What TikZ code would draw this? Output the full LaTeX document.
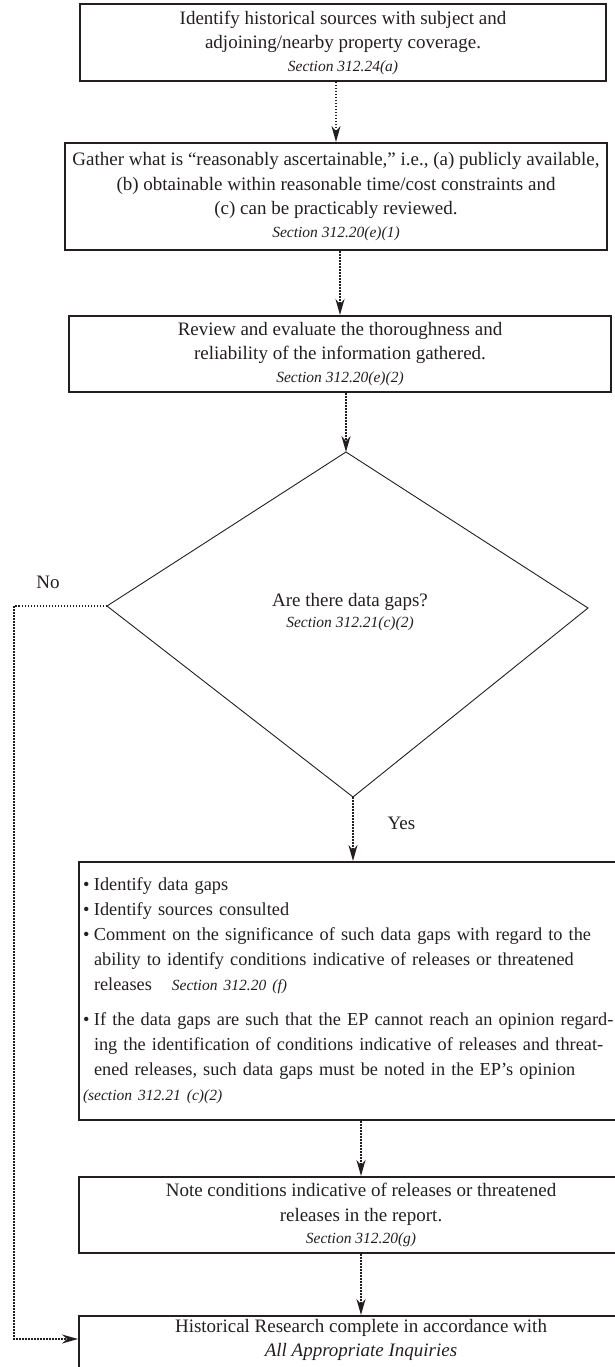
\documentclass[tikz,border=0pt]{standalone}
\usepackage{fontspec}
\setmainfont{Liberation Serif}
\usetikzlibrary{arrows.meta, positioning}

\definecolor{ink}{HTML}{231F20}
\newcommand{\boxfont}{\fontsize{19}{24.5}\selectfont}
\newcommand{\listfont}{\fontsize{18.3}{25}\selectfont}
\newcommand{\secfont}{\fontsize{15.5}{18}\selectfont\itshape}
\newcommand{\bul}{\makebox[11pt][l]{•}}
\newcommand{\hang}{\hspace*{11pt}}

\begin{document}
\begin{tikzpicture}[
    x=1pt, y=-1pt,
    step box/.style={draw=ink, line width=2pt, text=ink, font=\boxfont, align=center, inner sep=0pt},
    flow arrow/.style={draw=ink, line width=2pt, dash pattern=on 1.5pt off 1.5pt, -{Stealth[length=16pt, width=9pt]}},
    answer/.style={font=\boxfont, text=ink}
  ]

  \useasboundingbox (0,0) rectangle (614,1367);

  % steps
  \node[step box, minimum width=526, minimum height=77] (sources) at (343,42.5)
    {Identify historical sources with subject and\\adjoining/nearby property coverage.\\[-2pt]{\secfont Section 312.24(a)}};
  \node[step box, minimum width=542, minimum height=107] (gather) at (336,196.5)
    {Gather what is “reasonably ascertainable,” i.e., (a) publicly available,\\(b) obtainable within reasonable time/cost constraints and\\(c) can be practicably reviewed.\\[-2pt]{\secfont Section 312.20(e)(1)}};
  \node[step box, minimum width=542, minimum height=76] (review) at (340,354)
    {Review and evaluate the thoroughness and\\reliability of the information gathered.\\[-2pt]{\secfont Section 312.20(e)(2)}};

  % decision
  \coordinate (dtop) at (346,452);
  \coordinate (dright) at (588,608);
  \coordinate (dbottom) at (353,797);
  \coordinate (dleft) at (107,606);
  \draw[ink, line width=0.9pt] (dtop) -- (dright) -- (dbottom) -- (dleft) -- cycle;
  \node[answer, align=center] (question) at (350,612)
    {Are there data gaps?\\[-3pt]{\secfont Section 312.21(c)(2)}};

  \node[step box, anchor=north west, align=left, font=\listfont, text width=557, inner xsep=4pt, minimum height=258] (gaps) at (78,861)
    {\bul Identify data gaps\\
     \bul Identify sources consulted\\
     \bul Comment on the significance of such data gaps with regard to the\\
     \hang ability to identify conditions indicative of releases or threatened\\
     \hang releases\hspace{20pt}{\secfont Section 312.20 (f)}\\[10pt]
     \bul If the data gaps are such that the EP cannot reach an opinion regard-\\
     \hang ing the identification of conditions indicative of releases and threat-\\
     \hang ened releases, such data gaps must be noted in the EP’s opinion\\
     {\secfont (section 312.21 (c)(2)}};

  \node[step box, minimum width=564, minimum height=76] (note) at (361,1215)
    {Note conditions indicative of releases or threatened\\releases in the report.\\[-2pt]{\secfont Section 312.20(g)}};
  \node[step box, anchor=north, minimum width=564, inner ysep=3pt, text depth=27pt] (final) at (361,1315)
    {Historical Research complete in accordance with\\{\itshape All Appropriate Inquiries}};

  % connectors
  \draw[flow arrow] (sources.south -| gather.north) -- (gather.north);
  \draw[flow arrow] (gather.south -| review.north) -- (review.north);
  \draw[flow arrow] (review.south -| dtop) -- (dtop);
  \draw[flow arrow] (dbottom) -- (dbottom |- gaps.north);
  \draw[flow arrow] (gaps.south -| note.north) -- (note.north);
  \draw[flow arrow] (note.south) -- (final.north);

  \coordinate (noturn) at (14,606);
  \draw[flow arrow] (dleft) -- (noturn) |- ([yshift=-24pt]final.north west);

  \node[answer] (no) at (48,582) {No};
  \node[answer, anchor=west] (yes) at (384,823) {Yes};

\end{tikzpicture}
\end{document}
